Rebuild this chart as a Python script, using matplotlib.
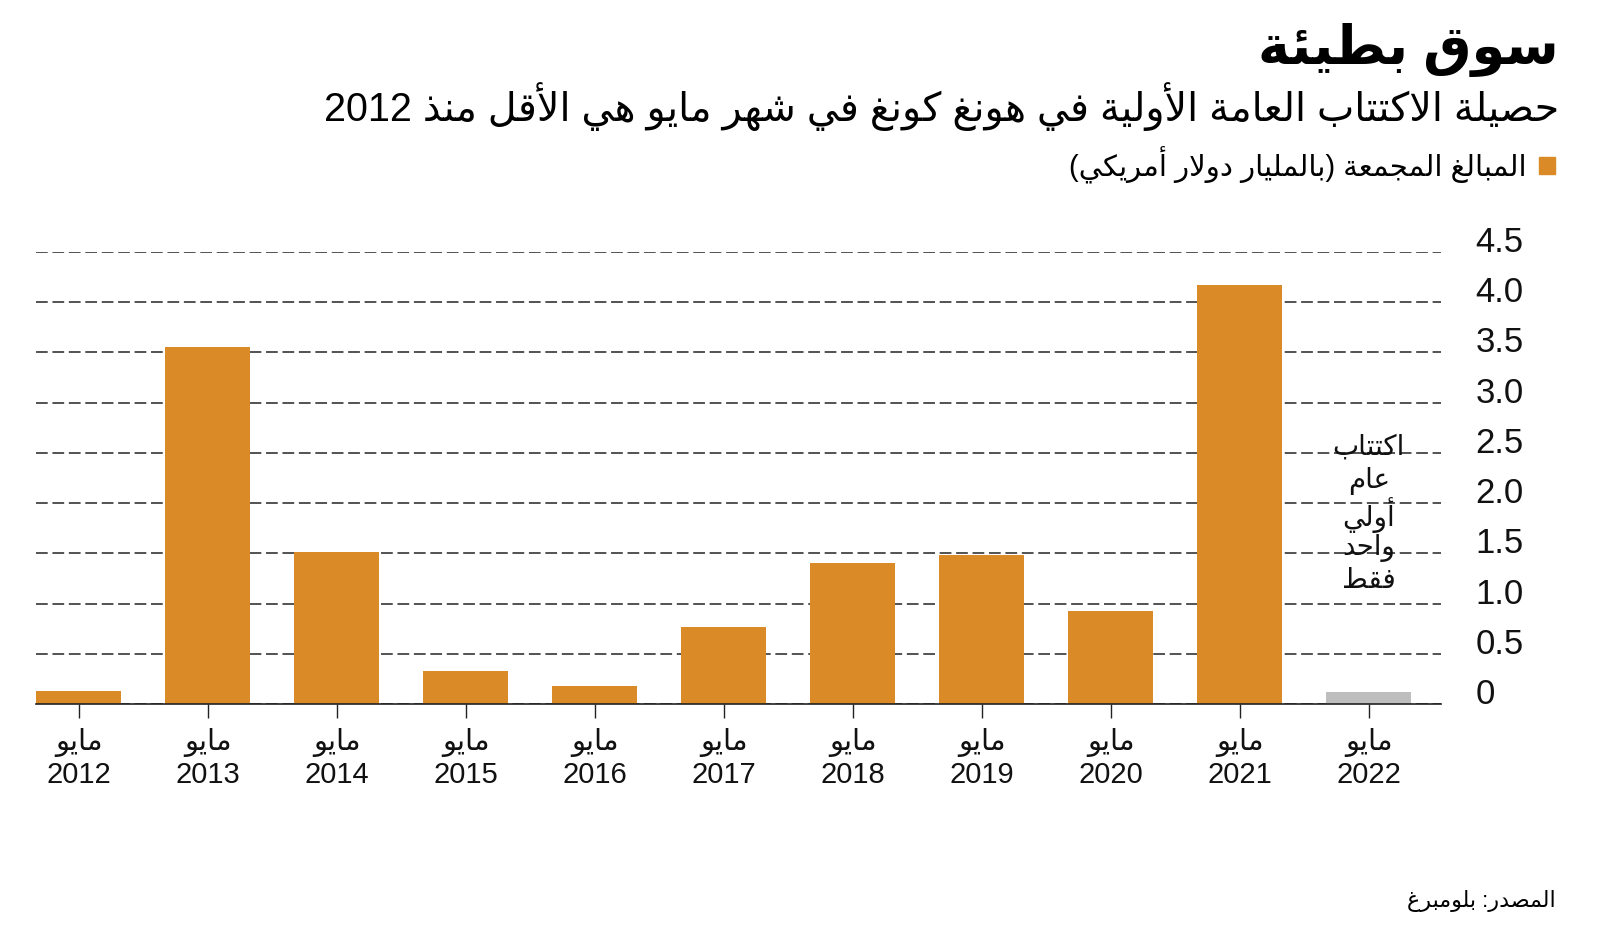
import matplotlib
matplotlib.use("Agg")
import matplotlib.pyplot as plt

# ---------------- data ----------------
years = ["2012", "2013", "2014", "2015", "2016", "2017", "2018", "2019", "2020", "2021", "2022"]
month_label = "مايو"
values = [0.13, 3.55, 1.51, 0.33, 0.18, 0.77, 1.40, 1.48, 0.93, 4.17, 0.12]
highlight_last = True
y_ticks = [0, 0.5, 1.0, 1.5, 2.0, 2.5, 3.0, 3.5, 4.0, 4.5]
y_tick_labels = ["0", "0.5", "1.0", "1.5", "2.0", "2.5", "3.0", "3.5", "4.0", "4.5"]
title = "سوق بطيئة"
subtitle = "حصيلة الاكتتاب العامة الأولية في هونغ كونغ في شهر مايو هي الأقل منذ 2012"
legend_label = "المبالغ المجمعة (بالمليار دولار أمريكي)"
annotation_lines = ["اكتتاب", "عام", "أولي", "واحد", "فقط"]
source = "المصدر: بلومبرغ"

ORANGE = "#DA8A27"
GRAY = "#BEBEBE"

# ---------------- minimal Arabic shaping ----------------
_DUAL = {'ئ': 0xFE89, 'ب': 0xFE8F, 'ت': 0xFE95, 'ث': 0xFE99, 'ج': 0xFE9D, 'ح': 0xFEA1,
         'خ': 0xFEA5, 'س': 0xFEB1, 'ش': 0xFEB5, 'ص': 0xFEB9, 'ض': 0xFEBD, 'ط': 0xFEC1,
         'ظ': 0xFEC5, 'ع': 0xFEC9, 'غ': 0xFECD, 'ف': 0xFED1, 'ق': 0xFED5, 'ك': 0xFED9,
         'ل': 0xFEDD, 'م': 0xFEE1, 'ن': 0xFEE5, 'ه': 0xFEE9, 'ي': 0xFEF1}
_RIGHT = {'آ': 0xFE81, 'أ': 0xFE83, 'ؤ': 0xFE85, 'إ': 0xFE87, 'ا': 0xFE8D, 'ة': 0xFE93,
          'د': 0xFEA9, 'ذ': 0xFEAB, 'ر': 0xFEAD, 'ز': 0xFEAF, 'و': 0xFEED, 'ى': 0xFEEF}
_NONE = {'ء': 0xFE80}
_LAMALEF = {'آ': 0xFEF5, 'أ': 0xFEF7, 'إ': 0xFEF9, 'ا': 0xFEFB}
_MIRROR = {'(': ')', ')': '(', '[': ']', ']': '['}


def _shape_line(s):
    units = []
    i = 0
    while i < len(s):
        c = s[i]
        if c == 'ل' and i + 1 < len(s) and s[i + 1] in _LAMALEF:
            units.append(('LA', 'R', _LAMALEF[s[i + 1]]))
            i += 2
            continue
        if c in _DUAL:
            units.append((c, 'D', _DUAL[c]))
        elif c in _RIGHT:
            units.append((c, 'R', _RIGHT[c]))
        elif c in _NONE:
            units.append((c, 'U', _NONE[c]))
        else:
            units.append((c, None, None))
        i += 1
    out = []
    for j, (c, k, b) in enumerate(units):
        if k is None:
            out.append(c)
            continue
        if k == 'U':
            out.append(chr(b))
            continue
        prev_join = j > 0 and units[j - 1][1] == 'D'
        next_join = k == 'D' and j + 1 < len(units) and units[j + 1][1] in ('D', 'R')
        if k == 'R':
            out.append(chr(b + 1 if prev_join else b))
        else:
            if prev_join and next_join:
                off = 3
            elif prev_join:
                off = 1
            elif next_join:
                off = 2
            else:
                off = 0
            out.append(chr(b + off))
    rev = ''.join(_MIRROR.get(ch, ch) for ch in reversed(out))
    # restore left-to-right runs (digits / latin)
    res = []
    run = []
    for ch in rev:
        if ch.isascii() and (ch.isalnum() or ch == '.'):
            run.append(ch)
        else:
            if run:
                res.extend(reversed(run))
                run = []
            res.append(ch)
    if run:
        res.extend(reversed(run))
    return ''.join(res)


def ar(s):
    return '\n'.join(_shape_line(line) for line in s.split('\n'))


FAM = ['Liberation Sans', 'DejaVu Sans']
plt.rcParams['font.family'] = FAM

# ---------------- figure ----------------
W, H = 1600, 930
fig = plt.figure(figsize=(W / 100, H / 100), dpi=100)
ax = fig.add_axes([36 / W, 1 - 704 / H, (1441 - 36) / W, (704 - 252) / H])

x = list(range(len(years)))
colors = [ORANGE] * len(values)
if highlight_last:
    colors[-1] = GRAY
ax.bar(x, values, width=0.66, color=colors, zorder=2)

ax.set_xlim(-0.33, 10.56)
ax.set_ylim(0, 4.5)

for s in ['top', 'left', 'right']:
    ax.spines[s].set_visible(False)
ax.spines['bottom'].set_linewidth(1.2)
ax.spines['bottom'].set_color('#222222')
ax.spines['bottom'].set_zorder(3)

ax.set_axisbelow(True)
ax.yaxis.grid(True, linestyle=(0, (6.5, 2.6)), color='#444444', linewidth=1.3)

ax.set_xticks(x)
ax.set_xticklabels([ar(month_label) + "\n" + y for y in years], fontsize=21,
                   linespacing=1.15, color='#111111')
ax.tick_params(axis='x', length=10, width=1.0, color='#222222', pad=7.5)

ax.yaxis.tick_right()
ax.set_yticks(y_ticks)
ax.set_yticklabels(y_tick_labels, fontsize=25, va='baseline', color='#111111')
ax.tick_params(axis='y', length=0, pad=25)

# annotation above the grey bar: one line per text, even spacing
ann_center_y = 1.92
line_step_pt = 24.0
n = len(annotation_lines)
for k, line in enumerate(annotation_lines):
    off = ((n - 1) / 2 - k) * line_step_pt
    ax.annotate(ar(line), xy=(x[-1], ann_center_y), xytext=(0, off),
                textcoords='offset points', ha='center', va='center_baseline',
                fontsize=20, color='#111111', zorder=4)

# titles
fig.text(1559 / W, 1 - 50 / H, ar(title), ha='right', va='center',
         fontsize=39, fontweight='bold', color='#000000')
fig.text(1559 / W, 1 - 107 / H, ar(subtitle), ha='right', va='center',
         fontsize=28.5, color='#000000')

# legend
fig.patches.append(plt.Rectangle((1539 / W, 1 - 174 / H), 16 / W, 17 / H,
                                 transform=fig.transFigure, color=ORANGE))
fig.text(1527 / W, 1 - 165 / H, ar(legend_label), ha='right', va='center',
         fontsize=21, color='#000000')

# source
fig.text(1556 / W, 1 - 901 / H, ar(source), ha='right', va='center',
         fontsize=16, color='#000000')

fig.savefig("out.png", dpi=100, facecolor='white')
